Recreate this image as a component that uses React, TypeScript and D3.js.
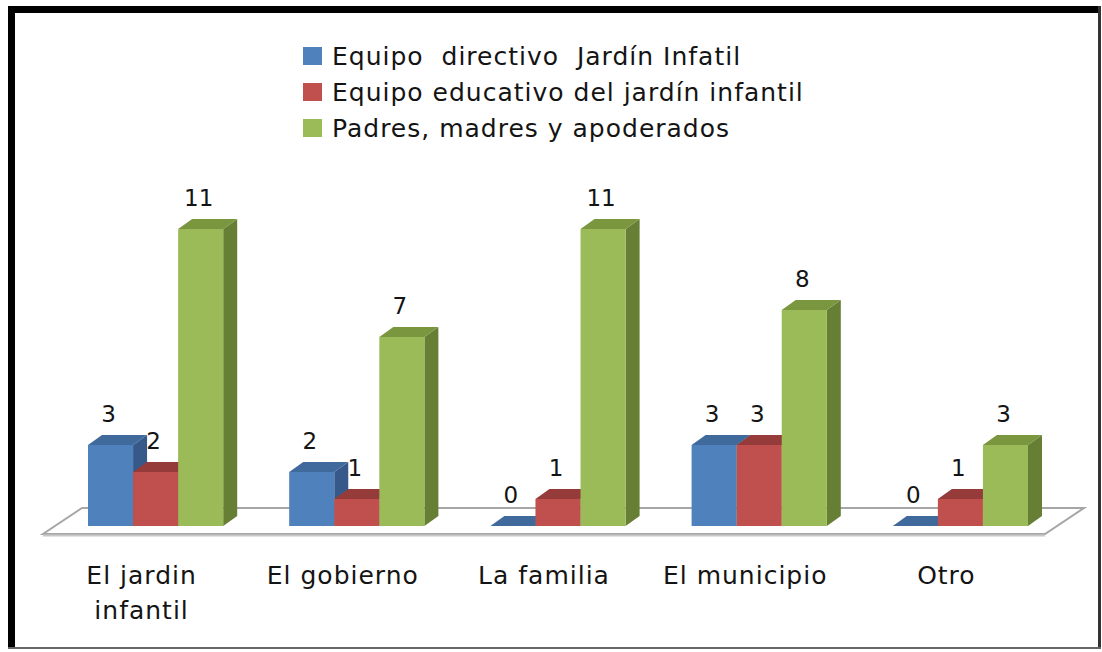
import React from "react";
import * as d3 from "d3";

const categories = ["El jardin infantil", "El gobierno", "La familia", "El municipio", "Otro"];
const categoryLines = [["El jardin", "infantil"], ["El gobierno"], ["La familia"], ["El municipio"], ["Otro"]];
const seriesNames = [
  "Equipo  directivo  Jardín Infatil",
  "Equipo educativo del jardín infantil",
  "Padres, madres y apoderados",
];
const directivo = [3, 2, 0, 3, 0];
const educativo = [2, 1, 1, 3, 1];
const padres = [11, 7, 11, 8, 3];
const seriesValues = [directivo, educativo, padres];

const fronts = ["#4F81BD", "#C0504D", "#9BBB59"];
const tops = ["#416A9C", "#953B39", "#7A963F"];
const sides = ["#36598A", "#7F302E", "#677F35"];

const W = 1102;
const H = 652;
const DX = 14;
const DY = 10;
const FONT = "'DejaVu Sans', Verdana, sans-serif";
const TXT = "#141414";

export default function App() {
  const x = d3.scaleBand<string>().domain(categories).range([55, 1061]).paddingInner(0.328).paddingOuter(0.164);
  const xs = d3.scaleBand<number>().domain([0, 1, 2]).range([0, x.bandwidth()]).padding(0);
  const y = d3.scaleLinear().domain([0, 11]).range([526, 229]);

  const base = y(0);
  const [r0, r1] = x.range();
  const fy = base + 8;
  const by = base - 18;
  const floorPts = [
    [r0 - 12, fy],
    [r1 - 16, fy],
    [r1 - 16 + 39, by],
    [r0 - 12 + 39, by],
  ];

  const bars: JSX.Element[] = [];
  const labels: JSX.Element[] = [];
  categories.forEach((c, ci) => {
    seriesValues.forEach((vals, si) => {
      const v = vals[ci];
      const x0 = (x(c) as number) + (xs(si) as number);
      const w = xs.bandwidth();
      const yt = y(v);
      const h = base - yt;
      const key = `${ci}-${si}`;
      if (h > 0) {
        bars.push(
          <polygon
            key={key + "s"}
            points={`${x0 + w},${yt} ${x0 + w + DX},${yt - DY} ${x0 + w + DX},${base - DY} ${x0 + w},${base}`}
            fill={sides[si]}
          />
        );
      }
      bars.push(
        <polygon
          key={key + "t"}
          points={`${x0},${yt} ${x0 + w},${yt} ${x0 + w + DX},${yt - DY} ${x0 + DX},${yt - DY}`}
          fill={tops[si]}
        />
      );
      if (h > 0) {
        bars.push(<rect key={key + "f"} x={x0} y={yt} width={w} height={h} fill={fronts[si]} />);
      }
      labels.push(
        <text
          key={key + "l"}
          x={x0 + w / 2 - 2}
          y={yt - DY - 13}
          textAnchor="middle"
          fontSize={23}
          fontFamily={FONT}
          fill={TXT}
        >
          {v}
        </text>
      );
    });
  });

  return (
    <svg
      width={W}
      height={H}
      style={{ position: "absolute", left: 0, top: 0, background: "#fff" }}
    >
      <rect x={0} y={0} width={W} height={H} fill="#fff" />
      {/* frame */}
      <rect x={8} y={6} width={1093} height={7} fill="#000" />
      <rect x={8} y={6} width={7} height={643} fill="#000" />
      <rect x={1098} y={6} width={3} height={643} fill="#333" />
      <rect x={8} y={647} width={1093} height={2} fill="#666" />

      {/* legend */}
      {seriesNames.map((n, i) => (
        <g key={n} transform={`translate(303,${47 + i * 36})`}>
          <rect x={0} y={0} width={19} height={18} fill={fronts[i]} />
          <text
            x={29}
            y={18}
            fontSize={25}
            letterSpacing={1}
            fontFamily={FONT}
            fill={TXT}
            style={{ whiteSpace: "pre" }}
          >
            {n}
          </text>
        </g>
      ))}

      {/* floor */}
      <polygon
        points={floorPts.map((p) => p.join(",")).join(" ")}
        fill="#fff"
        stroke="#A6A6A6"
        strokeWidth={2}
      />
      <line x1={floorPts[0][0]} y1={fy + 1.5} x2={floorPts[1][0]} y2={fy + 1.5} stroke="#C8C8C8" strokeWidth={2} />

      {bars}
      {labels}

      {/* category labels */}
      {categories.map((c, ci) => (
        <text
          key={c}
          textAnchor="middle"
          fontSize={25}
          letterSpacing={1}
          fontFamily={FONT}
          fill={TXT}
        >
          {categoryLines[ci].map((line, li) => (
            <tspan key={li} x={(x(c) as number) + x.bandwidth() / 2 - 14} y={584 + li * 35}>
              {line}
            </tspan>
          ))}
        </text>
      ))}
    </svg>
  );
}
